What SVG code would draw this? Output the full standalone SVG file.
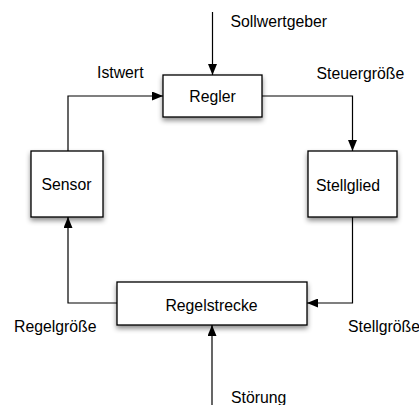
<svg xmlns="http://www.w3.org/2000/svg" width="419" height="405" viewBox="0 0 419 405">
<style>
.box{fill:#fff;stroke:#000;stroke-width:1.3;filter:url(#sh)}
.t{font-family:"Liberation Sans",Arial,sans-serif;font-size:15.8px;fill:#000}
.c{stroke:#000;stroke-width:1.2;fill:none;marker-end:url(#ah)}
</style>
<defs>
<filter id="sh" x="-20%" y="-20%" width="140%" height="160%">
<feDropShadow dx="0" dy="3" stdDeviation="2.5" flood-color="#000" flood-opacity="0.45"/>
</filter>
<marker id="ah" markerWidth="11" markerHeight="9" refX="11" refY="4.5" orient="auto" markerUnits="userSpaceOnUse">
<path d="M0,0 L11,4.5 L0,9 Z" fill="#000"/>
</marker>
</defs>
<rect width="419" height="405" fill="#fff"/>
<g id="connectors">
<path class="c" d="M212.5,12 V75"/>
<path class="c" d="M68,151 V96 H163"/>
<path class="c" d="M262,96 H352.5 V151"/>
<path class="c" d="M352.5,217 V303 H307"/>
<path class="c" d="M117,303 H68 V217"/>
<path class="c" d="M212,405 V325"/>
</g>
<g id="regler"><rect class="box" x="163" y="75" width="99" height="42"/><text class="t" x="212.5" y="101.5" text-anchor="middle">Regler</text></g>
<g id="sensor"><rect class="box" x="31" y="151" width="72" height="66"/><text class="t" x="66.5" y="190" text-anchor="middle">Sensor</text></g>
<g id="stellglied"><rect class="box" x="308" y="151" width="89" height="66"/><text class="t" x="316" y="190.5">Stellglied</text></g>
<g id="regelstrecke"><rect class="box" x="117" y="282" width="190" height="43"/><text class="t" x="211.5" y="310.5" text-anchor="middle">Regelstrecke</text></g>
<g id="labels">
<text class="t" x="230.5" y="26.5">Sollwertgeber</text>
<text class="t" x="97" y="78">Istwert</text>
<text class="t" x="316.5" y="78.5">Steuergröße</text>
<text class="t" x="14" y="331.5">Regelgröße</text>
<text class="t" x="348" y="331.5">Stellgröße</text>
<text class="t" x="231" y="403">Störung</text>
</g>
</svg>
